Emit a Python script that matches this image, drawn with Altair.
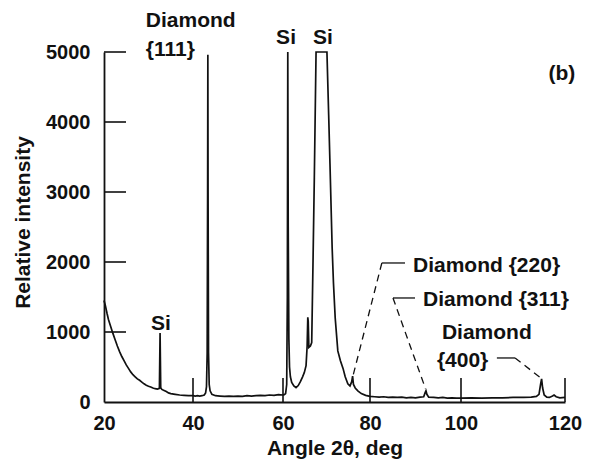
import altair as alt
import pandas as pd

# X-ray diffraction scan of a diamond film on silicon
angle = [
    20.0, 20.3, 20.7, 21.0, 21.5, 22.0, 22.5, 23.0, 23.5, 24.0, 24.5, 25.0, 25.5,
    26.0, 26.5, 27.0, 27.5, 28.0, 28.5, 29.0, 29.5, 30.0, 30.5, 31.0, 31.5, 32.0,
    32.45, 32.6, 32.75, 33.0, 33.5, 34.0, 34.5, 35.0, 36.0, 37.0, 38.0, 39.0, 40.0,
    40.5, 41.0, 41.5, 42.0, 42.5, 42.8, 43.0, 43.15, 43.25, 43.3, 43.35, 43.45,
    43.6, 43.8, 44.2, 45.0, 46.0, 47.0, 48.0, 49.0, 50.0, 51.0, 52.0, 53.0, 54.0,
    55.0, 56.0, 57.0, 58.0, 59.0, 60.0, 60.3, 60.6, 60.85, 61.0, 61.1, 61.2,
    61.35, 61.5, 61.7, 62.0, 62.5, 63.0, 63.5, 64.0, 64.5, 64.9, 65.3, 65.55,
    65.7, 65.8, 65.95, 66.3, 66.6, 66.9, 67.2, 67.6, 70.1, 70.5, 70.8, 71.3,
    71.6, 72.0, 72.6, 73.2, 73.8, 74.3, 74.9, 75.4, 75.8, 76.0, 76.2, 76.6,
    77.2, 78.0, 79.0, 80.0, 81.0, 82.0, 83.0, 84.0, 85.0, 86.0, 87.0, 88.0,
    89.0, 90.0, 91.0, 91.8, 92.1, 92.3, 92.5, 92.9, 94.0, 95.0, 96.0, 97.0,
    98.0, 99.0, 100.0, 102.0, 104.0, 106.0, 108.0, 110.0, 112.0, 113.5, 114.5,
    115.0, 115.3, 115.5, 115.7, 116.0, 116.5, 117.0, 117.6, 117.9, 118.3, 119.0,
    120.0,
]
intensity = [
    1450, 1380, 1260, 1180, 1080, 980, 890, 800, 720, 650, 590, 530, 480,
    430, 390, 360, 330, 310, 285, 260, 240, 225, 215, 200, 190, 185,
    195, 985, 205, 180, 165, 150, 130, 120, 110, 100, 95, 90, 90,
    85, 90, 85, 90, 100, 130, 220, 700, 3000, 4960, 3000, 700,
    250, 160, 110, 90, 85, 80, 85, 80, 85, 80, 90, 85, 90,
    95, 90, 100, 95, 105, 100, 105, 120, 250, 1500, 5000, 2500,
    900, 500, 360, 280, 230, 205, 235, 290, 360, 420, 520, 800,
    1210, 1150, 780, 800, 850, 2000, 3200, 5000, 5000, 4100, 3400, 2200,
    1700, 1200, 730, 590, 480, 360, 260, 230, 290, 370, 250, 200,
    160, 120, 95, 80, 75, 70, 75, 65, 70, 65, 70, 60,
    65, 60, 70, 75, 130, 160, 110, 70, 65, 60, 65, 55,
    60, 55, 55, 60, 55, 60, 60, 65, 65, 70, 80,
    110, 250, 330, 200, 100, 70, 65, 85, 100, 75, 60,
    65,
]

# Axis tick positions
x_ticks = [20, 40, 60, 80, 100, 120]
x_tick_px = [0, 89, 179, 266, 357, 461]
y_ticks = [0, 1000, 2000, 3000, 4000, 5000]

# Peak labels
label_left_text = ["Diamond", "{111}", "Diamond {220}", "Diamond {311}", "Diamond", "{400}"]
label_left_x = [29.4, 29.4, 89.45, 91.65, 95.8, 94.7]
label_left_y = [5357, 4943, 1857, 1371, 900, 500]

label_mid_text = ["Si", "Si", "Si", "(b)"]
label_mid_x = [32.8, 60.7, 69.2, 119.4]
label_mid_y = [1029, 5114, 5114, 4600]

# Leader lines from labels to the weak diamond reflections
solid_x = [82.6, 85.05, 106.9]
solid_x2 = [87.7, 89.9, 110.4]
solid_y = [1986, 1486, 629]
dash_x = [82.6, 85.05, 110.4]
dash_y = [1986, 1486, 629]
dash_x2 = [75.95, 92.2, 115.4]
dash_y2 = [340, 190, 340]

FONT = "Liberation Sans"
INK = "#111111"

xscale = alt.Scale(domain=x_ticks, range=x_tick_px, nice=False, zero=False)
yscale = alt.Scale(domain=[0, 5000], nice=False, zero=False)

spec = pd.DataFrame({"angle": angle, "intensity": intensity})

line = alt.Chart(spec).mark_line(color=INK, strokeWidth=1.7, clip=False).encode(
    x=alt.X(
        "angle:Q",
        scale=xscale,
        axis=alt.Axis(
            values=x_ticks,
            ticks=False,
            tickSize=0,
            grid=False,
            domainColor=INK,
            domainWidth=1.8,
            labelFont=FONT,
            labelFontSize=20,
            labelFontWeight="bold",
            labelColor=INK,
            labelPadding=11,
            labelFlush=False,
            format="d",
            title="Angle 2θ, deg",
            titleFont=FONT,
            titleFontSize=21,
            titleFontWeight="bold",
            titleColor=INK,
            titleBaseline="alphabetic",
            titleAnchor="middle",
            titleY=52,
        ),
    ),
    y=alt.Y(
        "intensity:Q",
        scale=yscale,
        axis=alt.Axis(
            values=y_ticks,
            ticks=False,
            tickSize=0,
            grid=False,
            domainColor=INK,
            domainWidth=1.8,
            labelFont=FONT,
            labelFontSize=20,
            labelFontWeight="bold",
            labelColor=INK,
            labelPadding=14,
            labelFlush=False,
            format="d",
            title="Relative intensity",
            titleFont=FONT,
            titleFontSize=21,
            titleFontWeight="bold",
            titleColor=INK,
            titleAngle=270,
            titleAlign="center",
            titleBaseline="alphabetic",
            titleX=-75,
            titleY=170,
        ),
    ),
)

# Inward ticks
xt = pd.DataFrame({"angle": x_ticks[1:]})
x_tick_marks = alt.Chart(xt).mark_rule(color=INK, strokeWidth=1.6).encode(
    x=alt.X("angle:Q", scale=xscale),
    y=alt.value(350),
    y2=alt.value(326),
)
yt = pd.DataFrame({"intensity": y_ticks[1:]})
y_tick_marks = alt.Chart(yt).mark_rule(color=INK, strokeWidth=1.6).encode(
    y=alt.Y("intensity:Q", scale=yscale),
    x=alt.value(0),
    x2=alt.value(22),
)

solid = pd.DataFrame({"angle": solid_x, "angle_end": solid_x2, "intensity": solid_y})
solid_leaders = alt.Chart(solid).mark_rule(color=INK, strokeWidth=1.3).encode(
    x=alt.X("angle:Q", scale=xscale),
    x2="angle_end:Q",
    y=alt.Y("intensity:Q", scale=yscale),
)
dash = pd.DataFrame(
    {"angle": dash_x, "intensity": dash_y, "angle_end": dash_x2, "intensity_end": dash_y2}
)
dash_leaders = alt.Chart(dash).mark_rule(color=INK, strokeWidth=1.3, strokeDash=[7, 5]).encode(
    x=alt.X("angle:Q", scale=xscale),
    x2="angle_end:Q",
    y=alt.Y("intensity:Q", scale=yscale),
    y2="intensity_end:Q",
)

left_df = pd.DataFrame({"label": label_left_text, "angle": label_left_x, "intensity": label_left_y})
left_labels = alt.Chart(left_df).mark_text(
    align="left", baseline="alphabetic", font=FONT, fontSize=21, fontWeight="bold", color=INK
).encode(
    x=alt.X("angle:Q", scale=xscale),
    y=alt.Y("intensity:Q", scale=yscale),
    text="label:N",
)
mid_df = pd.DataFrame({"label": label_mid_text, "angle": label_mid_x, "intensity": label_mid_y})
mid_labels = alt.Chart(mid_df).mark_text(
    align="center", baseline="alphabetic", font=FONT, fontSize=21, fontWeight="bold", color=INK
).encode(
    x=alt.X("angle:Q", scale=xscale),
    y=alt.Y("intensity:Q", scale=yscale),
    text="label:N",
)

chart = (
    alt.layer(line, x_tick_marks, y_tick_marks, solid_leaders, dash_leaders, left_labels, mid_labels)
    .properties(
        width=461,
        height=350,
        autosize=alt.AutoSizeParams(type="none"),
        padding={"left": 104, "top": 52, "right": 24, "bottom": 62},
        background="white",
    )
    .configure_view(stroke=None)
)

chart.save("out.html", embed_options={"renderer": "svg", "actions": False})
